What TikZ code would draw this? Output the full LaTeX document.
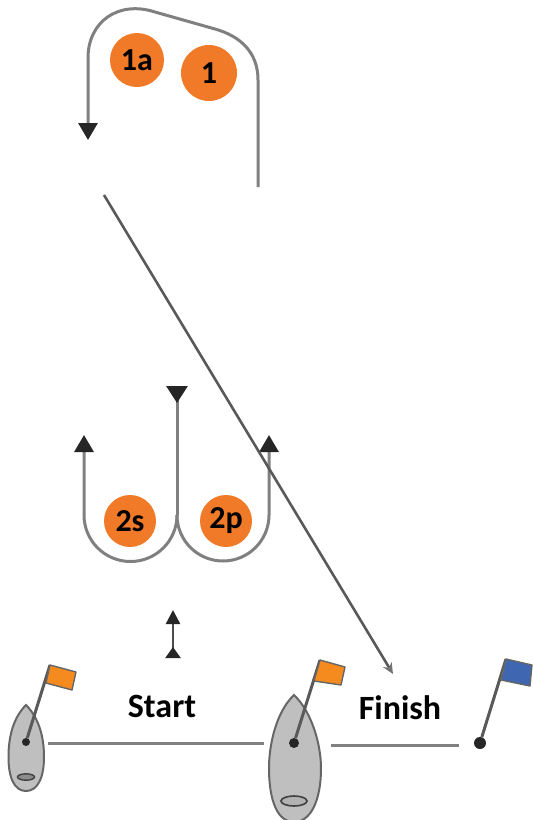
\documentclass[tikz,border=0pt]{standalone}
\usepackage{fontspec}
\setmainfont{Carlito}
\usetikzlibrary{arrows.meta}
\definecolor{markorange}{HTML}{F07A28}
\definecolor{flagorange}{HTML}{F58A1F}
\definecolor{flagblue}{HTML}{3F66B0}
\definecolor{hullgray}{HTML}{BFBFBF}
\definecolor{linegray}{HTML}{808080}
\tikzset{
  marknode/.style={circle,fill=markorange,inner sep=0pt,font=\fontsize{32}{32}\selectfont\bfseries},
  course/.style={linegray,line width=3pt},
  courseend/.style={course,-{Triangle[length=17pt,width=19pt,color=black!85]}},
  hull/.style={fill=hullgray,draw=black!60,line width=2pt},
  mast/.style={draw=black!65,line width=3pt},
  flagcloth/.style={draw=black!60,line width=1.4pt,line join=round},
  dotnode/.style={circle,fill=black!85,inner sep=0pt,minimum size=12pt},
  linelabel/.style={font=\fontsize{34}{34}\selectfont\bfseries}
}
\begin{document}
\begin{tikzpicture}[x=1pt,y=-1pt]
  \useasboundingbox (0,0) rectangle (533,820);
  % marks
  \node[marknode,minimum size=54pt] (marka) at (137,60) {1a};
  \node[marknode,minimum size=56pt] (markone) at (209,73) {1};
  \node[marknode,minimum size=52pt] (marks) at (130,521) {2s};
  \node[marknode,minimum size=52pt] (markp) at (226,521) {2p};
  % courses
  \coordinate (toplegin) at (258,187);
  \coordinate (toplegout) at (88,140);
  \draw[courseend] (toplegin) -- (258,80) .. controls (258,52) and (240,36) .. (215,29)
    -- (155,12) .. controls (118,0) and (88,22) .. (88,58) -- (toplegout);
  \coordinate (portend) at (269,435);
  \coordinate (starbend) at (84,435);
  \coordinate (midtop) at (177,386);
  \draw[courseend] (177,515) arc[start angle=180,end angle=360,radius=46pt] -- (portend);
  \draw[courseend] (177,515) arc[start angle=0,end angle=-180,radius=46.5pt] -- (starbend);
  \draw[course,-{Triangle[reversed,length=17pt,width=21pt,color=black!85]}] (177,515) -- (midtop);
  \coordinate (startup) at (173,610);
  \coordinate (startlow) at (173,658);
  \draw[line width=2.4pt,black!70,{Triangle[reversed,length=11pt,width=15pt,color=black!85]}-{Triangle[length=14pt,width=14pt,color=black!85]}] (startlow) -- (startup);
  \coordinate (longin) at (104,195);
  \coordinate (longout) at (393,674);
  \draw[black!65,line width=2.6pt,-{Stealth[length=11pt,width=10pt,color=black!55]}] (longin) -- (longout);
  % left boat
  \draw[hull] (26,705) .. controls (38,717) and (44,735) .. (44,757)
    .. controls (44,777) and (38,791) .. (26,791)
    .. controls (14,791) and (8.5,777) .. (8.5,757)
    .. controls (8.5,735) and (14,717) .. (26,705) -- cycle;
  \draw[fill=black!45,draw=black!75,line width=1.4pt] (26,777) ellipse (8.5pt and 3.2pt);
  \node[dotnode,minimum size=8pt] (leftdot) at (26,742) {};
  \coordinate (lefttop) at (50,665);
  \draw[mast] (leftdot) -- (lefttop);
  \draw[flagcloth,fill=flagorange] (lefttop) -- (76,672) -- (72,690) -- (46,683) -- cycle;
  % right boat
  \draw[hull] (294,695) .. controls (312,712) and (321,745) .. (321,768)
    .. controls (321,802) and (310,822) .. (294,822)
    .. controls (278,822) and (269,802) .. (269,768)
    .. controls (269,745) and (276,712) .. (294,695) -- cycle;
  \draw[fill=black!30,draw=black!75,line width=1.6pt] (294,801) ellipse (13pt and 5pt);
  \node[dotnode,minimum size=10pt] (rightdot) at (294,743) {};
  \coordinate (righttop) at (320,660);
  \draw[mast] (rightdot) -- (righttop);
  \draw[flagcloth,fill=flagorange] (righttop) -- (345,667) -- (341,685) -- (314,681) -- cycle;
  % finish flag
  \node[dotnode] (finishdot) at (480,743) {};
  \coordinate (finishtop) at (506,659);
  \draw[mast] (finishdot) -- (finishtop);
  \draw[flagcloth,fill=flagblue] (finishtop) -- (532,665) -- (530,686) -- (501,680) -- cycle;
  % lines
  \coordinate (startleft) at (48,743);
  \coordinate (startright) at (264,743);
  \coordinate (finishleft) at (331,745);
  \coordinate (finishright) at (459,745);
  \draw[course] (startleft) -- (startright);
  \draw[course] (finishleft) -- (finishright);
  \node[linelabel] (startlabel) at (162,706) {Start};
  \node[linelabel] (finishlabel) at (400,708) {Finish};
\end{tikzpicture}
\end{document}
